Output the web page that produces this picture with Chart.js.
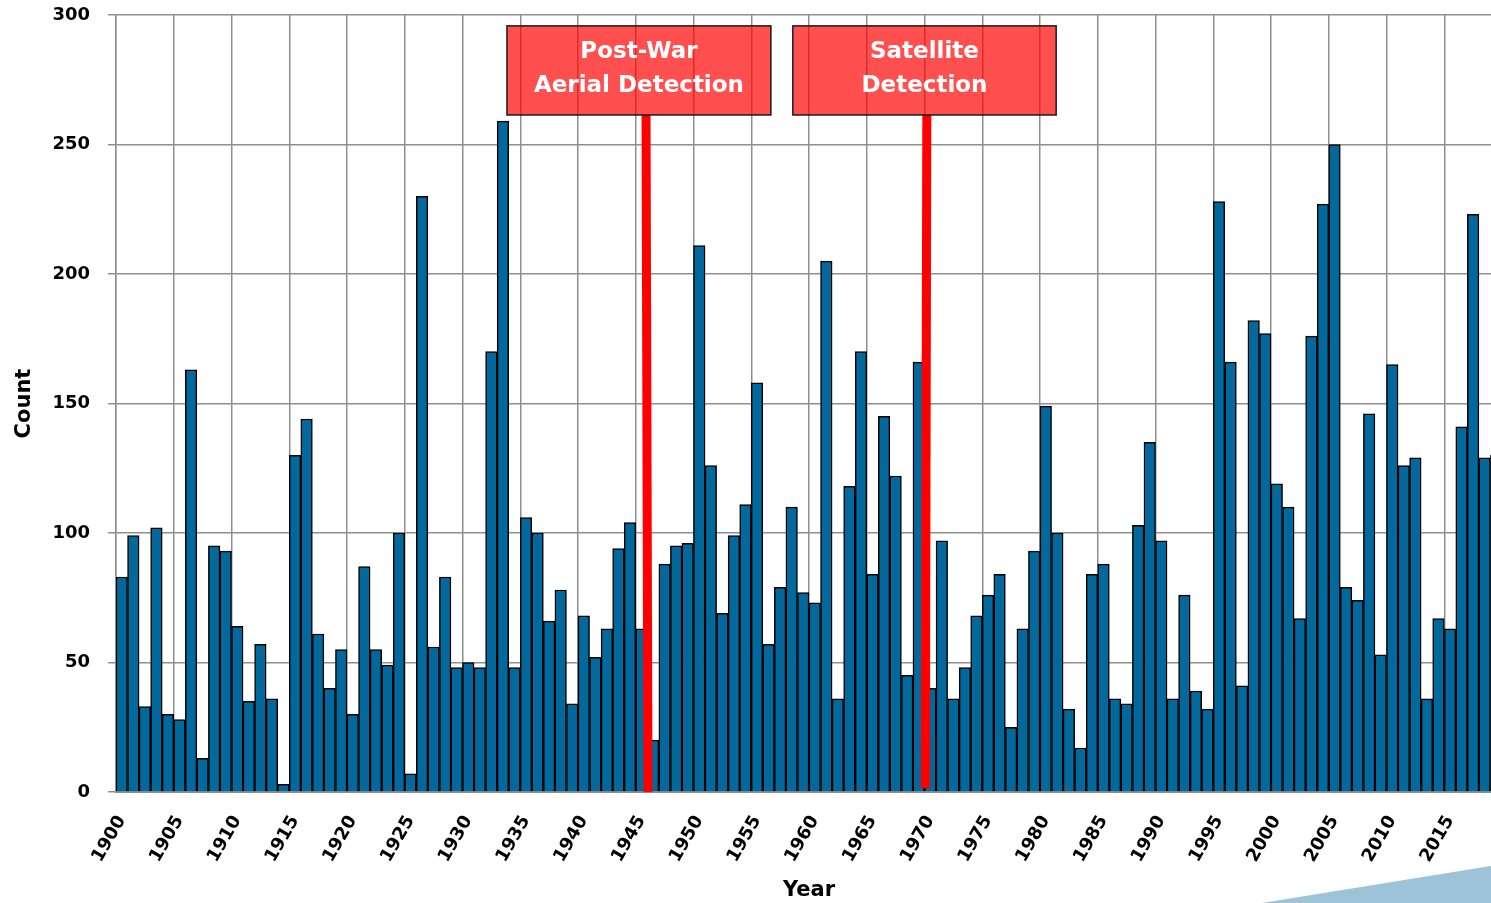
<!DOCTYPE html>
<html>
<head>
<meta charset="utf-8">
<title>Count per year</title>
<script src="https://cdn.jsdelivr.net/npm/chart.js@4.4.1/dist/chart.umd.min.js"></script>
<style>
html, body { margin: 0; padding: 0; background: #fff; overflow: hidden; }
#wrap { position: relative; width: 1503px; height: 903px; }
#corner {
  position: absolute; left: 1262px; top: 864px; width: 241px; height: 39px;
  background: #9cc3d8;
  clip-path: polygon(0 100%, 100% 0, 100% 100%);
}
</style>
</head>
<body>
<div id="wrap">
  <canvas id="chart"></canvas>
  <div id="corner"></div>
</div>
<script>
// Années (catégories)
const years = [
  '1900','1901','1902','1903','1904','1905','1906','1907','1908','1909',
  '1910','1911','1912','1913','1914','1915','1916','1917','1918','1919',
  '1920','1921','1922','1923','1924','1925','1926','1927','1928','1929',
  '1930','1931','1932','1933','1934','1935','1936','1937','1938','1939',
  '1940','1941','1942','1943','1944','1945','1946','1947','1948','1949',
  '1950','1951','1952','1953','1954','1955','1956','1957','1958','1959',
  '1960','1961','1962','1963','1964','1965','1966','1967','1968','1969',
  '1970','1971','1972','1973','1974','1975','1976','1977','1978','1979',
  '1980','1981','1982','1983','1984','1985','1986','1987','1988','1989',
  '1990','1991','1992','1993','1994','1995','1996','1997','1998','1999',
  '2000','2001','2002','2003','2004','2005','2006','2007','2008','2009',
  '2010','2011','2012','2013','2014','2015','2016','2017','2018','2019'
];

// Nombre par année
const counts = [
  83, 99, 33, 102, 30, 28, 163, 13, 95, 93,
  64, 35, 57, 36, 3, 130, 144, 61, 40, 55,
  30, 87, 55, 49, 100, 7, 230, 56, 83, 48,
  50, 48, 170, 259, 48, 106, 100, 66, 78, 34,
  68, 52, 63, 94, 104, 63, 20, 88, 95, 96,
  211, 126, 69, 99, 111, 158, 57, 79, 110, 77,
  73, 205, 36, 118, 170, 84, 145, 122, 45, 166,
  40, 97, 36, 48, 68, 76, 84, 25, 63, 93,
  149, 100, 32, 17, 84, 88, 36, 34, 103, 135,
  97, 36, 76, 39, 32, 228, 166, 41, 182, 177,
  119, 110, 67, 176, 227, 250, 79, 74, 146, 53,
  165, 126, 129, 36, 67, 63, 141, 223, 129, 130
];

// Étiquettes affichées sur l'axe X
const tickYears = ['1900','1905','1910','1915','1920','1925','1930','1935','1940','1945',
  '1950','1955','1960','1965','1970','1975','1980','1985','1990','1995',
  '2000','2005','2010','2015'];

// Périodes de détection (positions en unités de l'axe)
const periodLabels = [['Post-War', 'Aerial Detection'], ['Satellite', 'Detection']];
const periodBoxStart = [33.35, 58.1];
const periodBoxEnd = [56.2, 80.9];
const periodBoxTop = 295.8;
const periodBoxBottom = 261.4;
const periodLineTop = [45.39, 69.7];
const periodLineBottom = [45.56, 69.57];
const periodLineEnd = [0, 1.5];

const FONT = 'DejaVu Sans';
const GRID = '#8f8f8f';

// Plugin : lignes rouges + boîtes
const periodPlugin = {
  id: 'periods',
  afterDatasetsDraw(chart) {
    const { ctx, scales: { x, y } } = chart;
    ctx.save();
    periodLabels.forEach((lines, i) => {
      const top = y.getPixelForValue(periodBoxTop);
      const bottom = y.getPixelForValue(periodBoxBottom);
      ctx.strokeStyle = '#ff0000';
      ctx.lineWidth = 9;
      ctx.beginPath();
      ctx.moveTo(x.getPixelForValue(periodLineTop[i]), bottom);
      ctx.lineTo(x.getPixelForValue(periodLineBottom[i]), y.getPixelForValue(periodLineEnd[i]));
      ctx.stroke();

      const left = x.getPixelForValue(periodBoxStart[i]);
      const right = x.getPixelForValue(periodBoxEnd[i]);
      ctx.fillStyle = 'rgba(255,0,0,0.69)';
      ctx.fillRect(left, top, right - left, bottom - top);
      ctx.strokeStyle = '#1a1a1a';
      ctx.lineWidth = 1.5;
      ctx.strokeRect(left, top, right - left, bottom - top);

      ctx.fillStyle = '#ffffff';
      ctx.font = 'bold 23px "' + FONT + '"';
      ctx.textAlign = 'center';
      ctx.textBaseline = 'middle';
      lines.forEach((t, k) => {
        ctx.fillText(t, (left + right) / 2, top + 26 + k * 34);
      });
    });
    ctx.restore();
  }
};

const ctx = document.getElementById('chart').getContext('2d');
const chart = new Chart(ctx, {
  type: 'bar',
  data: {
    labels: years,
    datasets: [{
      label: 'Count',
      data: counts,
      backgroundColor: '#03699d',
      borderColor: '#000000',
      borderWidth: 1.5,
      barPercentage: 1,
      categoryPercentage: 1
    }]
  },
  options: {
    responsive: true,
    maintainAspectRatio: false,
    animation: false,
    layout: { padding: { top: 15, right: 1, left: 0, bottom: 0 } },
    plugins: {
      legend: { display: false },
      tooltip: { enabled: false }
    },
    scales: {
      x: {
        offset: true,
        grid: {
          offset: true,
          drawTicks: false,
          lineWidth: 1.5,
          color: c => (c.index % 5 === 0 ? GRID : 'rgba(0,0,0,0)')
        },
        border: { color: GRID, width: 2 },
        ticks: {
          autoSkip: false,
          minRotation: 60,
          maxRotation: 60,
          padding: 20,
          color: '#000',
          font: { family: FONT, weight: 'bold', size: 18 },
          callback: function (v) {
            const lbl = this.getLabelForValue(v);
            return tickYears.includes(lbl) ? lbl : '';
          }
        },
        title: {
          display: true,
          text: 'Year',
          color: '#000',
          font: { family: FONT, weight: 'bold', size: 21 },
          padding: { top: 0, bottom: 0 }
        },
        afterFit(scale) {
          scale.height = 111;
          scale.paddingLeft = 0;
          scale.paddingRight = 0;
        }
      },
      y: {
        min: 0,
        max: 300,
        ticks: {
          stepSize: 50,
          padding: 18,
          color: '#000',
          font: { family: FONT, weight: 'bold', size: 18 }
        },
        grid: { color: GRID, lineWidth: 1.5, tickLength: 8 },
        border: { color: GRID, width: 1.5 },
        title: {
          display: true,
          text: 'Count',
          color: '#000',
          font: { family: FONT, weight: 'bold', size: 21 },
          padding: { top: 12, bottom: 0 }
        },
        afterFit(scale) {
          scale.width = 116;
          scale.paddingTop = 0;
          scale.paddingBottom = 0;
        }
      }
    }
  },
  plugins: [periodPlugin]
});
</script>
</body>
</html>
